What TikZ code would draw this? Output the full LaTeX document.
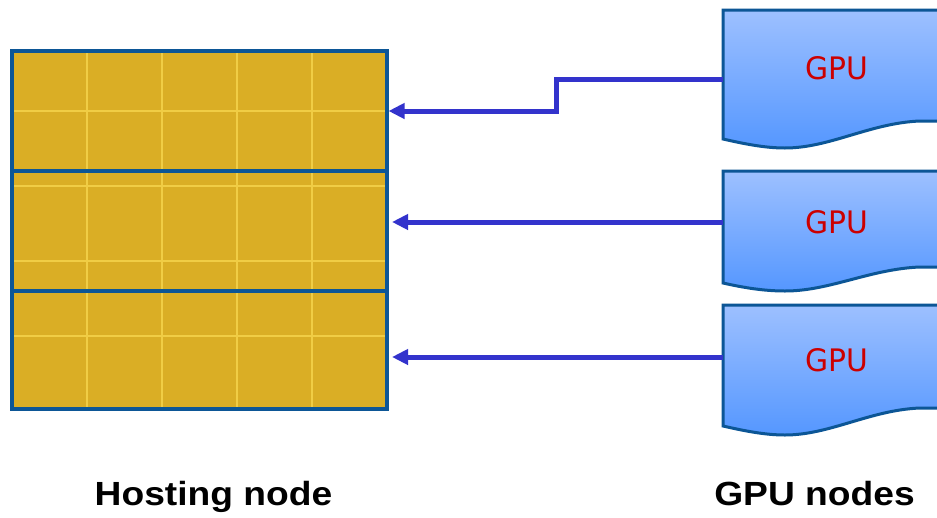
\documentclass[tikz,border=0pt]{standalone}
\usepackage{fontspec}
\setmainfont{Liberation Sans}
\newfontfamily\gpufont{DejaVu Sans}
\usetikzlibrary{arrows.meta}
\definecolor{hostfill}{HTML}{DAAE25}
\definecolor{gridc}{HTML}{F0CD45}
\definecolor{bord}{HTML}{0C5696}
\definecolor{arrc}{HTML}{3333CC}
\definecolor{gtop}{HTML}{9DC0FF}
\definecolor{gbot}{HTML}{5597FF}
\definecolor{gpured}{HTML}{CC0000}
\begin{document}
\begin{tikzpicture}[x=1pt,y=-1pt,
  hostsec/.style={draw=bord, line width=3.8pt, inner sep=0pt, outer sep=0pt, anchor=north west, minimum width=375pt},
  gridln/.style={draw=gridc, line width=2pt},
  conn/.style={draw=arrc, line width=5pt, -{Triangle[length=16pt,width=15pt]}},
  gpuframe/.style={top color=gtop, bottom color=gbot, draw=bord, line width=3pt},
  gputext/.style={text=gpured, font=\gpufont\fontsize{31}{37}\selectfont, inner sep=0pt, xscale=0.96},
  caption/.style={font=\bfseries\fontsize{33.5}{40}\selectfont, xscale=1.11, inner sep=0pt, anchor=base}]
\useasboundingbox (0,0) rectangle (937,517);
\fill[white] (0,0) rectangle (937,517);
% hosting node
\fill[hostfill] (12,51) rectangle (387,409);
\begin{scope}
  \clip (12,51) rectangle (387,409);
  \foreach \gx in {87,162,237,312} \draw[gridln] (\gx,51) -- (\gx,409);
  \foreach \gy in {110.7,185.7,260.7,335.7} \draw[gridln] (12,\gy) -- (387,\gy);
\end{scope}
\node[hostsec, minimum height=119.7pt] (h1) at (12,51) {};
\node[hostsec, minimum height=120pt] (h2) at (12,170.7) {};
\node[hostsec, minimum height=118.3pt] (h3) at (12,290.7) {};
% GPU nodes
\begin{scope}
  \clip (0,0) rectangle (937,517);
  \foreach \t/\l/\m/\r/\ty/\ay/\n in {10/139/148/121/68/79/1, 171/283/291/267/222/222/2, 305/426/435/408/360/357/3}{
    \shadedraw[gpuframe] (723,\t) -- (990,\t) -- (990,\r) -- (920,\r)
      .. controls (870,\r+2) and (830,\m) .. (785,\m)
      .. controls (765,\m) and (745,\l+5) .. (723,\l) -- cycle;
    \node[gputext] (g\n) at (837,\ty) {GPU};
    \coordinate (g\n-in) at (723,\ay);
  }
\end{scope}
% connectors
\draw[conn, shorten >=1.5pt] (g1-in) -- (556,79) -- (556,111) -- (h1.east |- 0,111);
\draw[conn, shorten >=5pt] (g2-in) -- (h2.east |- g2-in);
\draw[conn, shorten >=5pt] (g3-in) -- (h3.east |- g3-in);
% captions
\node[caption] (hostlabel) at (213.5,505) {Hosting node};
\node[caption] (gpulabel) at (814.5,505) {GPU nodes};
\end{tikzpicture}
\end{document}
